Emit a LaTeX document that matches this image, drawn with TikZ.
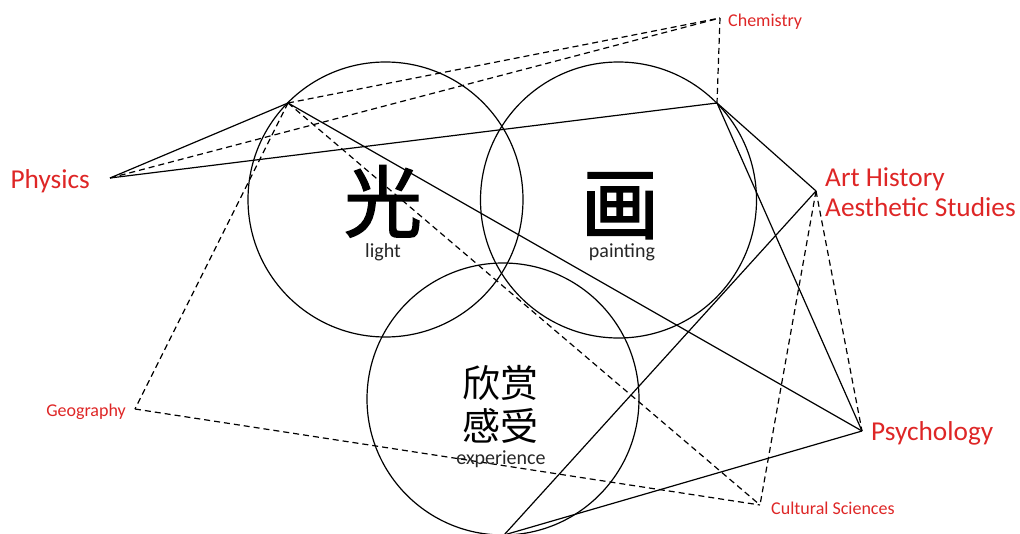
\documentclass[tikz,border=0pt]{standalone}
\usepackage{fontspec}
\setmainfont{Carlito}
\newfontfamily\cjk{Noto Sans CJK SC}
\newfontfamily\cjkheavy[FakeBold=2]{Noto Sans CJK SC}
\definecolor{labred}{RGB}{222,38,38}
\begin{document}
\begin{tikzpicture}[x=1pt,y=-1pt,
  conn/.style={line width=1.2pt, black},
  dconn/.style={conn, dash pattern=on 6pt off 4pt},
  ring/.style={line width=1.2pt},
  bigl/.style={font=\fontsize{27.3}{30}\selectfont, text=labred, inner sep=0pt},
  smalll/.style={font=\fontsize{18}{22}\selectfont, text=labred, inner sep=0pt},
  subl/.style={font=\fontsize{20}{24}\selectfont, text=black!85, inner sep=0pt},
  han/.style={font=\cjkheavy\fontsize{78}{80}\selectfont, inner sep=0pt},
  hans/.style={font=\cjk\fontsize{38}{40}\selectfont, inner sep=0pt}]
\useasboundingbox (0,0) rectangle (1020,533);

% circles
\draw[ring] (385.5,199.5) circle[radius=137.5pt];
\draw[ring] (618.5,200) circle[radius=138pt];
\draw[ring] (503,399) circle[radius=136pt];

% vertices
\coordinate (P) at (110,178);
\coordinate (C) at (720,18);
\coordinate (A1) at (288,103);
\coordinate (A2) at (717,103);
\coordinate (H) at (816,191);
\coordinate (Y) at (862,431);
\coordinate (S) at (760,505);
\coordinate (G) at (135,409);
\coordinate (B) at (504,535);

% solid connectors
\draw[conn] (P) -- (A1);
\draw[conn] (P) -- (A2);
\draw[conn] (A1) -- (Y);
\draw[conn] (A2) -- (H);
\draw[conn] (A2) -- (Y);
\draw[conn] (H) -- (B);
\draw[conn] (Y) -- (B);

% dashed connectors
\draw[dconn] (P) -- (C);
\draw[dconn] (A1) -- (C);
\draw[dconn] (C) -- (A2);
\draw[dconn] (A1) -- (G);
\draw[dconn] (A1) -- (S);
\draw[dconn] (G) -- (S);
\draw[dconn] (H) -- (S);
\draw[dconn] (H) -- (Y);

% labels
\node[bigl, anchor=base east] (physics) at (90,188) {Physics};
\node[smalll, anchor=base west] (chem) at (728,26) {Chemistry};
\node[bigl, anchor=base west] (art) at (825,186) {Art History};
\node[bigl, anchor=base west] (aes) at (825,216) {Aesthetic Studies};
\node[bigl, anchor=base west] (psy) at (871,440) {Psychology};
\node[smalll, anchor=base west] (cult) at (771,514) {Cultural Sciences};
\node[smalll, anchor=base east] (geo) at (126,416) {Geography};

% circle contents
\node[han, anchor=base] (guang) at (383,231) {光};
\node[subl, anchor=base] (light) at (383,257) {light};
\node[han, anchor=base] (hua) at (620,233) {画};
\node[subl, anchor=base] (painting) at (622,257) {painting};
\node[hans, anchor=base] (xs) at (500,397) {欣赏};
\node[hans, anchor=base] (gs) at (500,440) {感受};
\node[subl, anchor=base] (exp) at (501,464) {experience};
\end{tikzpicture}
\end{document}
